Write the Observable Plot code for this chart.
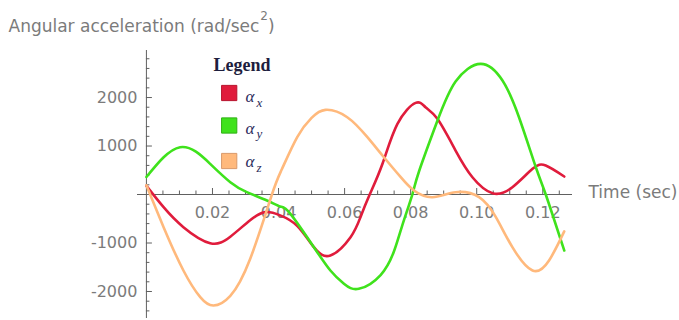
<!DOCTYPE html>
<html><head><meta charset="utf-8">
<script src="https://cdn.jsdelivr.net/npm/d3@7"></script>
<script src="https://cdn.jsdelivr.net/npm/@observablehq/plot@0.6"></script>
<style>body{margin:0;background:#fff} svg{display:block}</style>
</head><body><div id="chart"></div>
<script>
// ---- data ----
const tX = [0, 0.0052, 0.0112, 0.0193, 0.0254, 0.0314, 0.036, 0.0405, 0.0457, 0.0507, 0.0557, 0.0618, 0.0648, 0.0676, 0.0715, 0.076, 0.0815, 0.0845, 0.0881, 0.0936, 0.0987, 0.1048, 0.1108, 0.1169, 0.1209, 0.1265];
const ax = [180, -261, -673, -1003, -870, -530, -364, -430, -650, -1086, -1258, -880, -468, 0, 640, 1457, 1890, 1800, 1560, 907, 357, 27, 150, 529, 598, 371];
const tY = [0, 0.0102, 0.0193, 0.0254, 0.0304, 0.0365, 0.0405, 0.0436, 0.0507, 0.0557, 0.0598, 0.0643, 0.0709, 0.0749, 0.0774, 0.0805, 0.0825, 0.0881, 0.0936, 0.1012, 0.1078, 0.1128, 0.1179, 0.1209, 0.1265];
const ay = [360, 976, 632, 254, 48, -124, -247, -398, -1086, -1567, -1841, -1945, -1660, -1180, -650, 0, 470, 1520, 2330, 2694, 2350, 1594, 563, 0, -1155];
const tZ = [0, 0.0052, 0.0112, 0.0163, 0.0203, 0.0254, 0.0314, 0.038, 0.041, 0.0457, 0.05, 0.0542, 0.0608, 0.0669, 0.0719, 0.077, 0.081, 0.0866, 0.0936, 0.1007, 0.1058, 0.1108, 0.1169, 0.1219, 0.1265];
const az = [190, -673, -1567, -2117, -2289, -2090, -1330, 0, 520, 1190, 1580, 1746, 1594, 1182, 769, 357, 82, -55, 47, -55, -467, -1086, -1567, -1361, -760];

const seriesNames = ["x", "y", "z"];
const seriesColors = ["#e01c3c", "#3fe21c", "#ffb97c"];
const swatchStrokes = ["#b8142e", "#2fb014", "#d9996a"];
const xTickValues = [0.02, 0.04, 0.06, 0.08, 0.10, 0.12];
const xTickLabels = ["0.02", "0.04", "0.06", "0.08", "0.10", "0.12"];
const yTickValues = [-2000, -1000, 1000, 2000];
const yTickLabels = ["-2000", "-1000", "1000", "2000"];
const yTitle = "Angular acceleration (rad/sec2)";
const xTitle = "Time (sec)";
const legendTitle = "Legend";
const legendSymbol = "α";

// ---- layout ----
const W = 679, H = 320, mL = 137, mR = 107, mT = 50, mB = 2;
const xDom = [-0.0027, 0.129], yDom = [-2557, 2970];
const kx = (xDom[1] - xDom[0]) / (W - mL - mR); // data per px
const ky = (yDom[1] - yDom[0]) / (H - mT - mB);
const xMinor = d3.range(0.005, 0.1281, 0.005).filter(v => !xTickValues.some(m => Math.abs(m - v) < 1e-9));
const yMinor = d3.range(-2400, 2801, 200).filter(v => v !== 0 && v % 1000 !== 0);

const rows = [];
tX.forEach((t, i) => rows.push({t, v: ax[i], s: "x"}));
tY.forEach((t, i) => rows.push({t, v: ay[i], s: "y"}));
tZ.forEach((t, i) => rows.push({t, v: az[i], s: "z"}));

const axisColor = "#606060";
const labelColor = "#7b7b7b";
const swatchDy = [42.5, 75, 110.5];
const alphaDy = [51.5, 83, 116.5];

const legendMarks = [];
seriesNames.forEach((s, i) => {
  legendMarks.push(Plot.dot([s], {frameAnchor: "top-left", dx: 91.7, dy: swatchDy[i], symbol: "square", r: 8.6, fill: seriesColors[i], stroke: swatchStrokes[i], strokeWidth: 1}));
  legendMarks.push(Plot.text([legendSymbol], {frameAnchor: "top-left", dx: 108, dy: alphaDy[i], text: d => d, textAnchor: "start", lineAnchor: "bottom", fontFamily: "Liberation Serif", fontStyle: "italic", fontSize: 17, fill: "#2c2c5c"}));
  legendMarks.push(Plot.text([s], {frameAnchor: "top-left", dx: 119, dy: alphaDy[i] + 4.5, text: d => d, textAnchor: "start", lineAnchor: "bottom", fontFamily: "Liberation Serif", fontStyle: "italic", fontSize: 13, fill: "#2c2c5c"}));
});

const chart = Plot.plot({
  width: W, height: H,
  marginLeft: mL, marginRight: mR, marginTop: mT, marginBottom: mB,
  style: {fontFamily: "DejaVu Sans", background: "#fff", overflow: "visible"},
  x: {domain: xDom, axis: null},
  y: {domain: yDom, axis: null},
  color: {domain: seriesNames, range: seriesColors},
  marks: [
    Plot.ruleY([0], {stroke: axisColor, strokeWidth: 1}),
    Plot.ruleX([0], {stroke: axisColor, strokeWidth: 1}),
    Plot.ruleX(xMinor, {x: d => d, y1: 0, y2: 3.5 * ky, stroke: axisColor}),
    Plot.ruleX(xTickValues, {x: d => d, y1: 0, y2: 6 * ky, stroke: axisColor}),
    Plot.ruleY(yMinor, {y: d => d, x1: 0, x2: 3.5 * kx, stroke: axisColor}),
    Plot.ruleY(yTickValues, {y: d => d, x1: 0, x2: 6 * kx, stroke: axisColor}),
    Plot.text(xTickValues, {x: d => d, y: 0, text: (d, i) => xTickLabels[i], dy: 18.5, lineAnchor: "middle", textAnchor: "middle", fontSize: 16, fill: labelColor}),
    Plot.text(yTickValues, {x: 0, y: d => d, text: (d, i) => yTickLabels[i], dx: -9, lineAnchor: "middle", textAnchor: "end", fontSize: 16, fill: labelColor}),
    Plot.line(rows, {x: "t", y: "v", z: "s", stroke: "s", strokeWidth: 2.6, curve: "natural"}),
    Plot.text([xTitle], {x: xDom[1], y: 0, text: d => d, dx: 16, dy: -2, textAnchor: "start", lineAnchor: "middle", fontSize: 17, fill: labelColor}),
    Plot.text([yTitle], {frameAnchor: "top-left", dx: 8 - mL, dy: 31 - mT, text: d => d, textAnchor: "start", lineAnchor: "bottom", fontSize: 17, fill: labelColor}),
    Plot.text([legendTitle], {frameAnchor: "top-left", dx: 76, dy: 20.5, text: d => d, textAnchor: "start", lineAnchor: "bottom", fontFamily: "Liberation Serif", fontWeight: "bold", fontSize: 18, fill: "#1e1e3e"}),
    ...legendMarks
  ]
});
document.getElementById("chart").appendChild(chart);

// superscript in the y title
d3.select(chart).selectAll("text").filter(function () { return this.textContent === yTitle; }).each(function () {
  const el = d3.select(this);
  el.text(null);
  el.append("tspan").text("Angular acceleration (rad/sec");
  el.append("tspan").attr("font-size", 12).attr("dy", -12).attr("dx", 1).text("2");
  el.append("tspan").attr("dy", 12).text(")");
});
</script>
</body></html>
